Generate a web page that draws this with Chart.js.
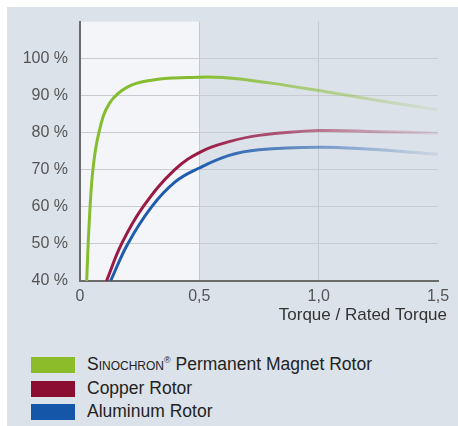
<!DOCTYPE html>
<html>
<head>
<meta charset="utf-8">
<script src="https://cdn.jsdelivr.net/npm/chart.js@4.4.0/dist/chart.umd.min.js"></script>
<style>
  body { margin: 0; background: #fff; font-family: "Liberation Sans", Arial, sans-serif; }
  #wrap { position: relative; width: 458px; height: 426px; }
  #panel { position: absolute; left: 7px; top: 7px; width: 451px; height: 419px; background: #dce2e9; }
  #myChart { position: absolute; left: 0; top: 0; }
  .legend { position: absolute; left: 31px; top: 357px; }
  .row { position: relative; height: 23.5px; }
  .sw { position: absolute; left: 0; top: 0; width: 44px; height: 16px; }
  .lbl { position: absolute; left: 56px; top: -3px; font-size: 17.5px; color: #222; white-space: nowrap; }
  .sc { font-variant: small-caps; }
  sup { font-size: 9px; }
</style>
</head>
<body>
<div id="wrap">
  <div id="panel"></div>
  <canvas id="myChart" width="458" height="340"></canvas>
  <div class="legend" id="legend"></div>
</div>
<script>
// data (x = torque / rated torque, y = efficiency %)
var pmX    = [0.028, 0.038, 0.054, 0.079, 0.124, 0.2, 0.3, 0.45, 0.6, 0.8, 1.0, 1.25, 1.5];
var pmY    = [40, 55, 70, 80, 88, 92.4, 94.2, 94.9, 94.9, 93.4, 91.4, 88.7, 86.2];
var copperX = [0.111, 0.174, 0.264, 0.396, 0.51, 0.625, 0.75, 1.0, 1.25, 1.5];
var copperY = [40, 50, 60, 70, 75.0, 77.6, 79.3, 80.6, 80.3, 79.9];
var aluX    = [0.128, 0.2, 0.3, 0.4, 0.5, 0.625, 0.75, 1.0, 1.2, 1.5];
var aluY    = [40, 50, 60, 66.8, 70.5, 73.9, 75.4, 76.1, 75.6, 74.2];
var xTicks = [0, 0.5, 1.0, 1.5];
var yTicks = [40, 50, 60, 70, 80, 90, 100];
var seriesNames = ["Permanent Magnet Rotor", "Copper Rotor", "Aluminum Rotor"];
var lineColors = ["#86bd2e", "#9a1a44", "#1f5cad"];
var legendColors = ["#8cbc2a", "#8b0d32", "#1556a8"];

function toPoints(xs, ys) {
    var pts = [];
    for (var i = 0; i < xs.length; i++) pts.push({x: xs[i], y: ys[i]});
    return pts;
}

function hexToRgba(hex, a) {
    var n = parseInt(hex.slice(1), 16);
    return "rgba(" + (n >> 16) + "," + ((n >> 8) & 255) + "," + (n & 255) + "," + a + ")";
}

// lines fade out to the right
function fadeColor(hex) {
    return function(context) {
        var chart = context.chart;
        var area = chart.chartArea;
        if (!area) return hex;
        var x0 = chart.scales.x.getPixelForValue(0.5);
        var g = chart.ctx.createLinearGradient(x0, 0, area.right, 0);
        g.addColorStop(0, hexToRgba(hex, 1));
        g.addColorStop(0.5, hexToRgba(hex, 0.55));
        g.addColorStop(1, hexToRgba(hex, 0.08));
        return g;
    };
}

var series = [toPoints(pmX, pmY), toPoints(copperX, copperY), toPoints(aluX, aluY)];
var datasets = series.map(function(pts, i) {
    return {
        label: seriesNames[i],
        data: pts,
        borderColor: fadeColor(lineColors[i]),
        borderWidth: 3,
        pointRadius: 0,
        tension: 0.4,
        fill: false
    };
});

// white band from 0 to 0.5 + axis title
var bandPlugin = {
    id: 'band',
    beforeDraw: function(chart) {
        var ctx = chart.ctx, area = chart.chartArea, x = chart.scales.x;
        var l = x.getPixelForValue(0), r = x.getPixelForValue(0.5);
        ctx.save();
        ctx.fillStyle = '#f3f5f8';
        ctx.fillRect(l, area.top, r - l, area.bottom - area.top);
        ctx.restore();
    },
    afterDraw: function(chart) {
        var ctx = chart.ctx, area = chart.chartArea;
        ctx.save();
        ctx.font = '17px "Liberation Sans", Arial, sans-serif';
        ctx.fillStyle = '#333';
        ctx.textAlign = 'right';
        ctx.textBaseline = 'middle';
        ctx.fillText('Torque / Rated Torque', area.right + 9, area.bottom + 34);
        ctx.restore();
    }
};

var ctx = document.getElementById('myChart');
var chart = new Chart(ctx, {
    type: 'line',
    data: { datasets: datasets },
    plugins: [bandPlugin],
    options: {
        responsive: false,
        animation: false,
        layout: { padding: { top: 17, right: 20, left: 0, bottom: 0 } },
        plugins: { legend: { display: false }, tooltip: { enabled: false } },
        scales: {
            x: {
                type: 'linear',
                min: 0, max: 1.5,
                afterFit: function(scale) { scale.height = 59; },
                afterBuildTicks: function(scale) {
                    scale.ticks = xTicks.map(function(v) { return {value: v}; });
                },
                border: { color: '#6b6b6b', width: 2 },
                grid: {
                    drawTicks: false,
                    color: function(c) {
                        return (c.tick && (c.tick.value === 0.5 || c.tick.value === 1)) ? '#c3c8ce' : 'rgba(0,0,0,0)';
                    }
                },
                ticks: {
                    padding: 6,
                    color: '#555',
                    font: { size: 16, family: '"Liberation Sans", Arial, sans-serif' },
                    callback: function(v) { return v === 0 ? '0' : v.toFixed(1).replace('.', ','); }
                }
            },
            y: {
                min: 40, max: 110,
                afterFit: function(scale) { scale.width = 80; },
                afterBuildTicks: function(scale) {
                    scale.ticks = yTicks.map(function(v) { return {value: v}; });
                },
                border: { color: '#6b6b6b', width: 2 },
                grid: { drawTicks: false, color: '#c8ccd2' },
                ticks: {
                    padding: 12,
                    color: '#555',
                    font: { size: 16, family: '"Liberation Sans", Arial, sans-serif' },
                    callback: function(v) { return v + ' %'; }
                }
            }
        }
    }
});

// legend below the chart
var legend = document.getElementById('legend');
var labelsHtml = [
    '<span class="sc">Sinochron</span><sup>®</sup> ' + seriesNames[0],
    seriesNames[1],
    seriesNames[2]
];
labelsHtml.forEach(function(txt, i) {
    var row = document.createElement('div');
    row.className = 'row';
    row.innerHTML = '<div class="sw" style="background:' + legendColors[i] + '"></div><div class="lbl">' + txt + '</div>';
    legend.appendChild(row);
});
</script>
</body>
</html>
